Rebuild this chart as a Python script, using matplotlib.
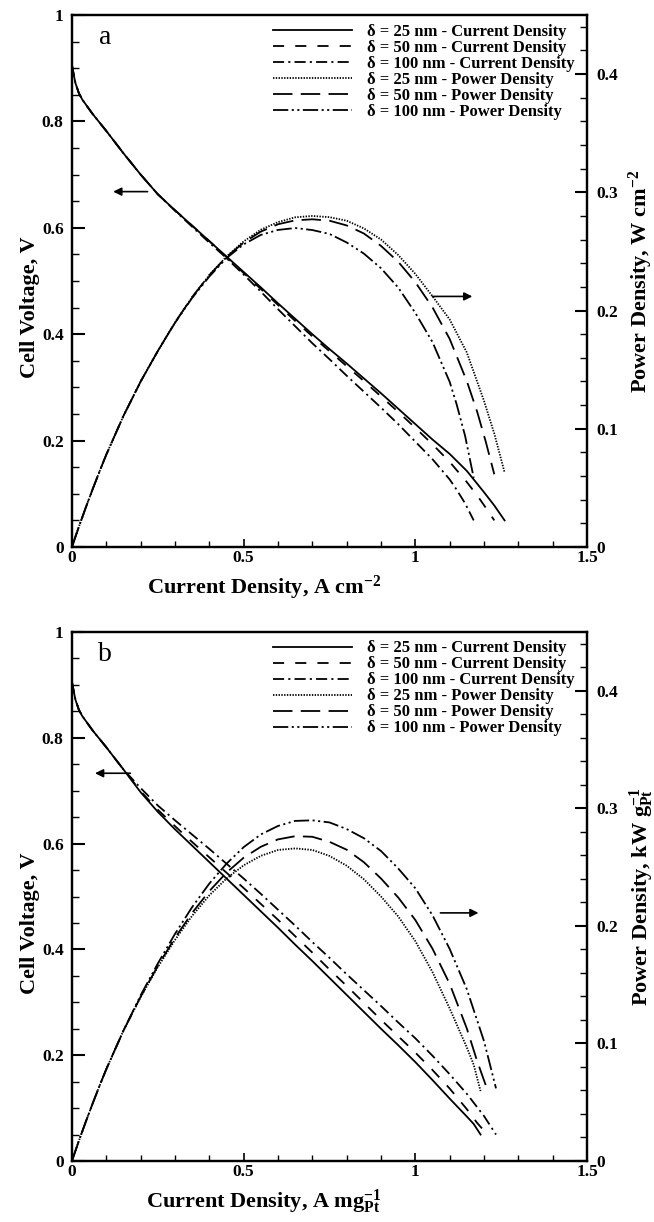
import matplotlib
matplotlib.use("Agg")
import matplotlib.pyplot as plt
from matplotlib.ticker import MultipleLocator, FuncFormatter

plt.rcParams['font.family'] = 'Liberation Serif'
plt.rcParams['font.weight'] = 'bold'
plt.rcParams['axes.labelweight'] = 'bold'
plt.rcParams['mathtext.fontset'] = 'custom'
plt.rcParams['mathtext.rm'] = 'Liberation Serif:bold'
plt.rcParams['mathtext.bf'] = 'Liberation Serif:bold'
plt.rcParams['mathtext.it'] = 'Liberation Serif:bold:italic'
plt.rcParams['mathtext.default'] = 'rm'
plt.rcParams['lines.scale_dashes'] = False

# low-current part shared by every polarization curve
cd_low = [0, 0.005, 0.01, 0.02, 0.03, 0.04, 0.06, 0.08, 0.10, 0.15]
v_low = [0.905, 0.888, 0.872, 0.853, 0.841, 0.832, 0.814, 0.798, 0.782, 0.740]
p_low = [0, 0.0044, 0.0087, 0.0171, 0.0252, 0.0333, 0.0488, 0.0638, 0.0782, 0.1110]

# (a) per unit area, A cm-2 / W cm-2
cd_a25 = cd_low + [0.20, 0.25, 0.30, 0.35, 0.40, 0.45, 0.50, 0.55, 0.60, 0.65, 0.70, 0.75, 0.80, 0.85, 0.90, 0.95, 1.00, 1.05, 1.10, 1.15, 1.20, 1.23, 1.26]
v_a25 = v_low + [0.700, 0.663, 0.633, 0.604, 0.575, 0.546, 0.517, 0.488, 0.458, 0.429, 0.400, 0.372, 0.345, 0.317, 0.289, 0.260, 0.231, 0.202, 0.175, 0.143, 0.103, 0.078, 0.050]
p_a25 = p_low + [0.1400, 0.1658, 0.1899, 0.2114, 0.2300, 0.2457, 0.2585, 0.2684, 0.2748, 0.2789, 0.2800, 0.2790, 0.2760, 0.2695, 0.2601, 0.2470, 0.2310, 0.2121, 0.1925, 0.1645, 0.1236, 0.0959, 0.0630]

cd_a50 = cd_low + [0.20, 0.25, 0.30, 0.35, 0.40, 0.45, 0.50, 0.55, 0.60, 0.65, 0.70, 0.75, 0.80, 0.85, 0.90, 0.95, 1.00, 1.05, 1.10, 1.15, 1.18, 1.205, 1.23]
v_a50 = v_low + [0.700, 0.663, 0.633, 0.604, 0.575, 0.545, 0.515, 0.485, 0.455, 0.425, 0.396, 0.368, 0.340, 0.312, 0.283, 0.254, 0.224, 0.193, 0.160, 0.122, 0.097, 0.074, 0.050]
p_a50 = p_low + [0.1400, 0.1658, 0.1899, 0.2114, 0.2300, 0.2453, 0.2575, 0.2668, 0.2730, 0.2763, 0.2772, 0.2760, 0.2720, 0.2652, 0.2547, 0.2413, 0.2240, 0.2027, 0.1760, 0.1403, 0.1145, 0.0892, 0.0615]

cd_a100 = cd_low + [0.20, 0.25, 0.30, 0.35, 0.40, 0.45, 0.50, 0.55, 0.60, 0.65, 0.70, 0.75, 0.80, 0.85, 0.90, 0.95, 1.00, 1.05, 1.10, 1.12, 1.145, 1.17]
v_a100 = v_low + [0.700, 0.663, 0.632, 0.602, 0.572, 0.543, 0.512, 0.480, 0.447, 0.415, 0.383, 0.353, 0.322, 0.292, 0.262, 0.231, 0.198, 0.165, 0.127, 0.108, 0.082, 0.050]
p_a100 = p_low + [0.1400, 0.1658, 0.1896, 0.2107, 0.2288, 0.2444, 0.2560, 0.2640, 0.2682, 0.2698, 0.2681, 0.2648, 0.2576, 0.2482, 0.2358, 0.2195, 0.1980, 0.1733, 0.1397, 0.1210, 0.0939, 0.0585]

# (b) per unit Pt mass, A mg-1 / kW g-1
cd_b25 = cd_low + [0.20, 0.25, 0.30, 0.35, 0.40, 0.45, 0.50, 0.55, 0.60, 0.65, 0.70, 0.75, 0.80, 0.85, 0.90, 0.95, 1.00, 1.05, 1.10, 1.15, 1.17, 1.19]
v_b25 = v_low + [0.697, 0.660, 0.627, 0.596, 0.565, 0.534, 0.503, 0.472, 0.441, 0.409, 0.378, 0.346, 0.314, 0.282, 0.250, 0.219, 0.187, 0.153, 0.118, 0.084, 0.070, 0.050]
p_b25 = p_low + [0.1394, 0.1650, 0.1881, 0.2086, 0.2260, 0.2403, 0.2515, 0.2596, 0.2646, 0.2659, 0.2646, 0.2595, 0.2512, 0.2397, 0.2250, 0.2081, 0.1870, 0.1607, 0.1298, 0.0966, 0.0819, 0.0595]

cd_b50 = cd_low + [0.20, 0.25, 0.30, 0.35, 0.40, 0.45, 0.50, 0.55, 0.60, 0.65, 0.70, 0.75, 0.80, 0.85, 0.90, 0.95, 1.00, 1.05, 1.10, 1.15, 1.18, 1.21]
v_b50 = v_low + [0.699, 0.664, 0.633, 0.603, 0.574, 0.545, 0.516, 0.486, 0.456, 0.425, 0.394, 0.362, 0.331, 0.299, 0.267, 0.236, 0.205, 0.172, 0.137, 0.098, 0.072, 0.050]
p_b50 = p_low + [0.1398, 0.1660, 0.1899, 0.2111, 0.2296, 0.2453, 0.2580, 0.2673, 0.2736, 0.2763, 0.2758, 0.2715, 0.2648, 0.2542, 0.2403, 0.2242, 0.2050, 0.1806, 0.1507, 0.1127, 0.0850, 0.0605]

cd_b100 = cd_low + [0.20, 0.25, 0.30, 0.35, 0.40, 0.45, 0.50, 0.55, 0.60, 0.65, 0.70, 0.75, 0.80, 0.85, 0.90, 0.95, 1.00, 1.05, 1.10, 1.15, 1.20, 1.235]
v_b100 = v_low + [0.705, 0.672, 0.644, 0.617, 0.590, 0.562, 0.534, 0.505, 0.475, 0.445, 0.414, 0.384, 0.353, 0.323, 0.293, 0.262, 0.232, 0.199, 0.164, 0.127, 0.085, 0.050]
p_b100 = p_low + [0.1410, 0.1680, 0.1932, 0.2160, 0.2360, 0.2529, 0.2670, 0.2778, 0.2850, 0.2893, 0.2898, 0.2880, 0.2824, 0.2746, 0.2637, 0.2489, 0.2320, 0.2090, 0.1804, 0.1461, 0.1020, 0.0618]

thickness = ['25', '50', '100']
cd_styles = ['-', (0, (8, 8)), (0, (8, 3, 1.5, 3))]
pd_styles = [(0, (1, 1)), (0, (14, 6)), (0, (11, 2.5, 1.5, 2.5, 1.5, 2.5))]

fmt = FuncFormatter(lambda v, pos: '%g' % round(v, 3))


def draw_panel(ax, cds, volts, powers, tag, xlabel, ylabel2, left_arrow, right_arrow):
    ax2 = ax.twinx()
    handles = []
    for cd, v, st, t in zip(cds, volts, cd_styles, thickness):
        ln, = ax.plot(cd, v, color='k', lw=1.3, ls=st,
                      label=u'\u03b4 = %s nm - Current Density' % t)
        handles.append(ln)
    for cd, p, st, t in zip(cds, powers, pd_styles, thickness):
        ln, = ax2.plot(cd, p, color='k', lw=1.3, ls=st,
                       label=u'\u03b4 = %s nm - Power Density' % t)
        handles.append(ln)

    ax.set_xlim(0, 1.5)
    ax.set_ylim(0, 1)
    ax2.set_ylim(0, 0.45)
    ax.xaxis.set_major_locator(MultipleLocator(0.5))
    ax.xaxis.set_minor_locator(MultipleLocator(0.1))
    ax.yaxis.set_major_locator(MultipleLocator(0.2))
    ax.yaxis.set_minor_locator(MultipleLocator(0.05))
    ax2.yaxis.set_major_locator(MultipleLocator(0.1))
    ax2.yaxis.set_minor_locator(MultipleLocator(0.02))
    for a in (ax.xaxis, ax.yaxis, ax2.yaxis):
        a.set_major_formatter(fmt)

    ax.tick_params(axis='y', which='major', direction='in', length=9, width=1.5, labelsize=12.5, pad=6)
    ax.tick_params(axis='y', which='minor', direction='in', length=5, width=1)
    ax.tick_params(axis='x', which='major', direction='in', length=6, width=1.2, labelsize=12.5, pad=2, top=False)
    ax.tick_params(axis='x', which='minor', direction='in', length=4, width=1, top=False)
    ax2.tick_params(axis='y', which='major', direction='in', length=9, width=1.5, labelsize=12.5, pad=7)
    ax2.tick_params(axis='y', which='minor', direction='in', length=5, width=1)
    for sp in ax2.spines.values():
        sp.set_linewidth(1.6)

    ax.set_xlabel(xlabel, fontsize=16)
    ax.xaxis.set_label_coords(0.373, -0.05)
    ax.set_ylabel('Cell Voltage, V', fontsize=16)
    ax.yaxis.set_label_coords(-0.062, 0.45)
    ax2.set_ylabel(ylabel2, fontsize=16)
    ax2.yaxis.set_label_coords(1.078, 0.5)

    ax.text(0.064, 0.957, tag, transform=ax.transAxes, fontsize=20,
            fontweight='normal', ha='center', va='center')

    ax.legend(handles=handles, loc='upper left', bbox_to_anchor=(0.39, 0.984),
              frameon=False, fontsize=12, handlelength=4.75, handletextpad=0.9,
              labelspacing=0.0, borderpad=0, borderaxespad=0)

    for (x0, x1, y) in (left_arrow, right_arrow):
        ax.annotate('', xy=(x1, y), xytext=(x0, y),
                    arrowprops=dict(arrowstyle='-|>', color='k', lw=1.2,
                                    mutation_scale=12, shrinkA=0, shrinkB=0))
    return ax2


fig = plt.figure(figsize=(6.54, 12.22), dpi=100)
ax_a = fig.add_axes([72 / 654, 1 - 547 / 1222, 515 / 654, 532 / 1222])
ax_b = fig.add_axes([72 / 654, 1 - 1161 / 1222, 515 / 654, 529 / 1222])
for ax in (ax_a, ax_b):
    for sp in ax.spines.values():
        sp.set_linewidth(1.6)

draw_panel(ax_a, [cd_a25, cd_a50, cd_a100], [v_a25, v_a50, v_a100],
           [p_a25, p_a50, p_a100], 'a', 'Current Density, A cm$^{-2}$',
           'Power Density, W cm$^{-2}$',
           (0.22, 0.12, 0.668), (1.05, 1.166, 0.471))
draw_panel(ax_b, [cd_b25, cd_b50, cd_b100], [v_b25, v_b50, v_b100],
           [p_b25, p_b50, p_b100], 'b', 'Current Density, A mg$_{Pt}^{-1}$',
           'Power Density, kW g$_{Pt}^{-1}$',
           (0.17, 0.067, 0.733), (1.073, 1.184, 0.469))

fig.savefig('out.png', dpi=100)
